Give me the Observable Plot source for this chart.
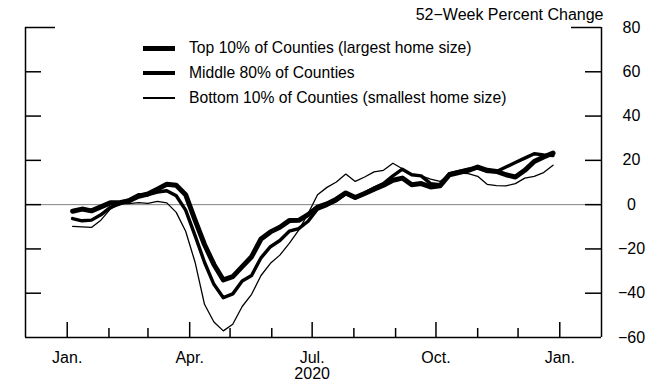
<!DOCTYPE html>
<html>
<head>
<meta charset="utf-8">
<script src="https://cdn.jsdelivr.net/npm/d3@7"></script>
<script src="https://cdn.jsdelivr.net/npm/@observablehq/plot@0.6"></script>
<style>
  html, body { margin: 0; padding: 0; background: #fff; }
  #wrap { position: relative; width: 662px; height: 382px; font-family: "Liberation Sans", Arial, sans-serif; }
  .sw { position: absolute; left: 143px; width: 32px; background: #000; }
  .lt { position: absolute; left: 189px; font-size: 15.7px; line-height: 1; transform: translateY(-50%); color: #000; white-space: nowrap; }
</style>
</head>
<body>
<div id="wrap"></div>
<script>
// Weekly observation dates (2020)
const weeks = [
  "2020-01-05","2020-01-12","2020-01-19","2020-01-26","2020-02-02","2020-02-09","2020-02-16","2020-02-23",
  "2020-03-01","2020-03-08","2020-03-15","2020-03-22","2020-03-29","2020-04-05","2020-04-12","2020-04-19",
  "2020-04-26","2020-05-03","2020-05-10","2020-05-17","2020-05-24","2020-05-31","2020-06-07","2020-06-14",
  "2020-06-21","2020-06-28","2020-07-05","2020-07-12","2020-07-19","2020-07-26","2020-08-02","2020-08-09",
  "2020-08-16","2020-08-23","2020-08-30","2020-09-06","2020-09-13","2020-09-20","2020-09-27","2020-10-04",
  "2020-10-11","2020-10-18","2020-10-25","2020-11-01","2020-11-08","2020-11-15","2020-11-22","2020-11-29",
  "2020-12-06","2020-12-13","2020-12-20","2020-12-27"
];

// 52-week percent change
const top10 = [
  -3.0, -2.0, -2.8, -1.0, 0.8, 0.9, 1.8, 3.8, 4.8, 7.0, 9.2, 8.8, 4.5,
  -7.0, -18.0, -27.0, -34.0, -32.5, -28.0, -23.5, -15.5, -12.3, -10.2, -7.2, -7.1, -4.5,
  -1.1, 0.3, 2.5, 5.3, 3.2, 5.0, 7.0, 8.8, 11.0, 12.0, 9.0, 9.5, 8.0, 8.5,
  13.5, 14.5, 15.5, 17.0, 15.5, 15.0, 13.5, 12.5, 15.5, 19.5, 21.5, 23.3
];
const middle80 = [
  -6.3, -7.3, -7.0, -4.6, -1.2, 0.3, 2.2, 4.5, 4.5, 5.7, 6.3, 4.0, -2.5,
  -14.0, -26.0, -36.0, -42.0, -40.3, -34.5, -32.0, -24.0, -19.0, -16.2, -12.0, -10.8, -7.5,
  -2.0, -0.3, 1.8, 5.0, 3.0, 5.2, 7.5, 9.5, 13.0, 16.0, 13.5, 13.0, 9.5, 9.0,
  14.0, 15.0, 16.0, 16.5, 15.0, 15.0, 17.0, 19.0, 21.0, 23.0, 22.5, 22.2
];
const bottom10 = [
  -9.8, -10.0, -10.3, -7.0, -2.0, 0.4, 0.5, 0.9, 0.6, 1.5, 0.8, -3.5, -12.0,
  -26.0, -45.0, -53.0, -57.0, -54.0, -46.0, -40.5, -32.0, -26.5, -22.8, -17.5, -11.5, -4.0,
  4.5, 7.8, 10.2, 13.8, 10.5, 12.5, 14.8, 15.5, 18.7, 16.2, 13.3, 13.0, 11.5, 10.5,
  13.8, 14.2, 14.0, 12.8, 9.2, 8.6, 8.5, 9.5, 12.0, 12.8, 14.5, 17.8
];

const seriesNames = [
  "Top 10% of Counties (largest home size)",
  "Middle 80% of Counties",
  "Bottom 10% of Counties (smallest home size)"
];
const seriesWidths = [5, 3.4, 1.3];

const yTicks = [80, 60, 40, 20, 0, -20, -40, -60];
const yLabels = ["80", "60", "40", "20", "0", "\u221220", "\u221240", "\u221260"];
const monthTicks = [
  "2020-01-01","2020-02-01","2020-03-01","2020-04-01","2020-05-01","2020-06-01","2020-07-01",
  "2020-08-01","2020-09-01","2020-10-01","2020-11-01","2020-12-01","2021-01-01"
];
const quarterTicks = ["2020-01-01","2020-04-01","2020-07-01","2020-10-01","2021-01-01"];
const quarterLabels = ["Jan.", "Apr.", "Jul.", "Oct.", "Jan."];
const yearLabel = {date: "2020-07-01", label: "2020"};
const yTitle = "52\u2212Week Percent Change";
const xDomain = ["2019-12-01", "2021-02-01"];

const parse = s => new Date(s + "T00:00:00Z");
const mk = arr => arr.map((v, i) => ({date: parse(weeks[i]), value: v}));
const data = [mk(top10), mk(middle80), mk(bottom10)];

const xStart = parse(xDomain[0]), xEnd = parse(xDomain[1]);
const innerTicks = yTicks.filter(t => t !== 80 && t !== -60);

const chart = Plot.plot({
  width: 662,
  height: 382,
  marginLeft: 25,
  marginRight: 61,
  marginTop: 27,
  marginBottom: 45,
  x: {type: "utc", domain: [xStart, xEnd], axis: null},
  y: {domain: [-60, 80], axis: null},
  style: {fontFamily: "'Liberation Sans', Arial, sans-serif", fontSize: "16px", background: "white", color: "black", overflow: "visible"},
  marks: [
    Plot.ruleY([0], {stroke: "#808080", strokeWidth: 1}),
    // frame: left, right, bottom
    Plot.ruleX([xStart, xEnd], {stroke: "black", strokeWidth: 1.5}),
    Plot.ruleY([-60], {stroke: "black", strokeWidth: 1.5}),
    // inward y ticks
    Plot.tickY(innerTicks, {y: d => d, insetRight: 560, stroke: "black", strokeWidth: 1.5}),
    Plot.tickY(innerTicks, {y: d => d, insetLeft: 560, stroke: "black", strokeWidth: 1.5}),
    Plot.tickY([80], {y: d => d, insetRight: 546, stroke: "black", strokeWidth: 1.5}),
    Plot.tickY([80], {y: d => d, insetLeft: 546, stroke: "black", strokeWidth: 1.5}),
    // x ticks
    Plot.tickX(monthTicks.filter(m => !quarterTicks.includes(m)).map(parse), {x: d => d, insetTop: 301, stroke: "black", strokeWidth: 1.5}),
    Plot.tickX(quarterTicks.map(parse), {x: d => d, insetTop: 295, stroke: "black", strokeWidth: 1.5}),
    // series
    ...data.map((d, i) => Plot.line(d, {x: "date", y: "value", stroke: "black", strokeWidth: seriesWidths[i], strokeLinejoin: "round"})),
    // labels
    Plot.text(yTicks, {y: d => d, text: (d, i) => yLabels[i], frameAnchor: "right", dx: 30, textAnchor: "middle", lineAnchor: "middle", fill: "black"}),
    Plot.text(quarterTicks.map((q, i) => ({date: parse(q), label: quarterLabels[i]})), {x: "date", text: "label", frameAnchor: "bottom", lineAnchor: "middle", dy: 20, fill: "black"}),
    Plot.text([{date: parse(yearLabel.date), label: yearLabel.label}], {x: "date", text: "label", frameAnchor: "bottom", lineAnchor: "middle", dy: 36, fill: "black"}),
    Plot.text([yTitle], {text: d => d, frameAnchor: "top-right", lineAnchor: "middle", dy: -13, dx: 2, textAnchor: "end", fill: "black"})
  ]
});

const wrap = document.getElementById("wrap");
wrap.appendChild(chart);

const legendY = [48, 73, 98];
seriesNames.forEach((name, i) => {
  const sw = document.createElement("div");
  sw.className = "sw";
  sw.style.top = (legendY[i] - seriesWidths[i] / 2) + "px";
  sw.style.height = seriesWidths[i] + "px";
  wrap.appendChild(sw);
  const t = document.createElement("div");
  t.className = "lt";
  t.style.top = legendY[i] + "px";
  t.textContent = name;
  wrap.appendChild(t);
});
</script>
</body>
</html>
